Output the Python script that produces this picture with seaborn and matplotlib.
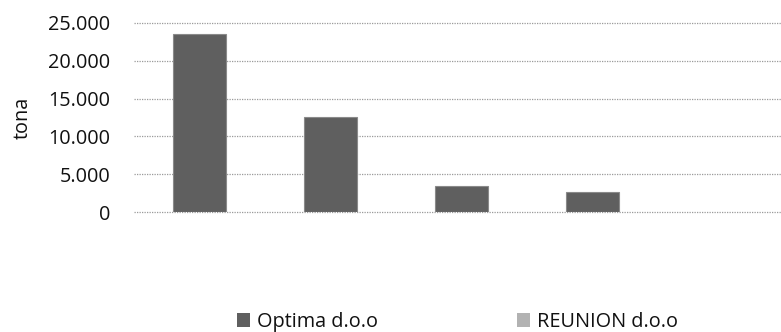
import matplotlib
matplotlib.use("Agg")
import matplotlib.pyplot as plt
import matplotlib.ticker as mticker
from matplotlib.patches import Patch
import pandas as pd
import seaborn as sns

categories = ["1", "2", "3", "4"]
optima = [23500, 12600, 3500, 2700]
reunion = [0, 0, 0, 0]
series_names = ["Optima d.o.o", "REUNION d.o.o"]
y_ticks = [0, 5000, 10000, 15000, 20000, 25000]

df = pd.DataFrame({
    "kategorija": categories * 2,
    "vrijednost": optima + reunion,
    "serija": [series_names[0]] * len(categories) + [series_names[1]] * len(categories),
})

sns.set_theme(style="white")
plt.rcParams["font.family"] = ["Open Sans", "DejaVu Sans"]

colors = {series_names[0]: "#5f5f5f", series_names[1]: "#b2b2b2"}

fig = plt.figure(figsize=(7.81, 3.32), dpi=100)
ax = fig.add_axes([134 / 781, 1 - 212 / 332, 1 - 134 / 781, (212 - 23) / 332])

sns.barplot(data=df, x="kategorija", y="vrijednost", hue="serija",
            palette=colors, dodge=False, width=0.4, ax=ax,
            edgecolor="#8a8a8a", linewidth=0.8, legend=False)

ax.set_xlim(-0.5, -0.5 + 647 / 131)
ax.set_ylim(0, 25000)
ax.set_yticks(y_ticks)
ax.yaxis.set_major_formatter(mticker.FuncFormatter(
    lambda v, p: f"{int(v):,}".replace(",", ".")))
ax.tick_params(axis="y", labelsize=14.3, length=0, pad=17, labelcolor="#111111")
ax.set_xticks([])
ax.set_xlabel("")
ax.set_ylabel("tona", fontsize=14.3, labelpad=11, color="#111111")
ax.grid(axis="y", linestyle=(0, (1, 1)), color="#9a9a9a", linewidth=0.9)
for gl in ax.get_ygridlines():
    gl.set_clip_on(False)
ax.set_axisbelow(True)
for s in ax.spines.values():
    s.set_visible(False)

handles = [Patch(facecolor=colors[n], edgecolor="none") for n in series_names]
fig.legend(handles, series_names, loc="center left", bbox_to_anchor=(237 / 781, 1 - 322 / 332),
           ncol=2, frameon=False, fontsize=14.3, handlelength=0.65, handleheight=0.65,
           handletextpad=0.35, columnspacing=7.0, borderpad=0, borderaxespad=0,
           labelcolor="#111111")

fig.savefig("out.png", dpi=100)
